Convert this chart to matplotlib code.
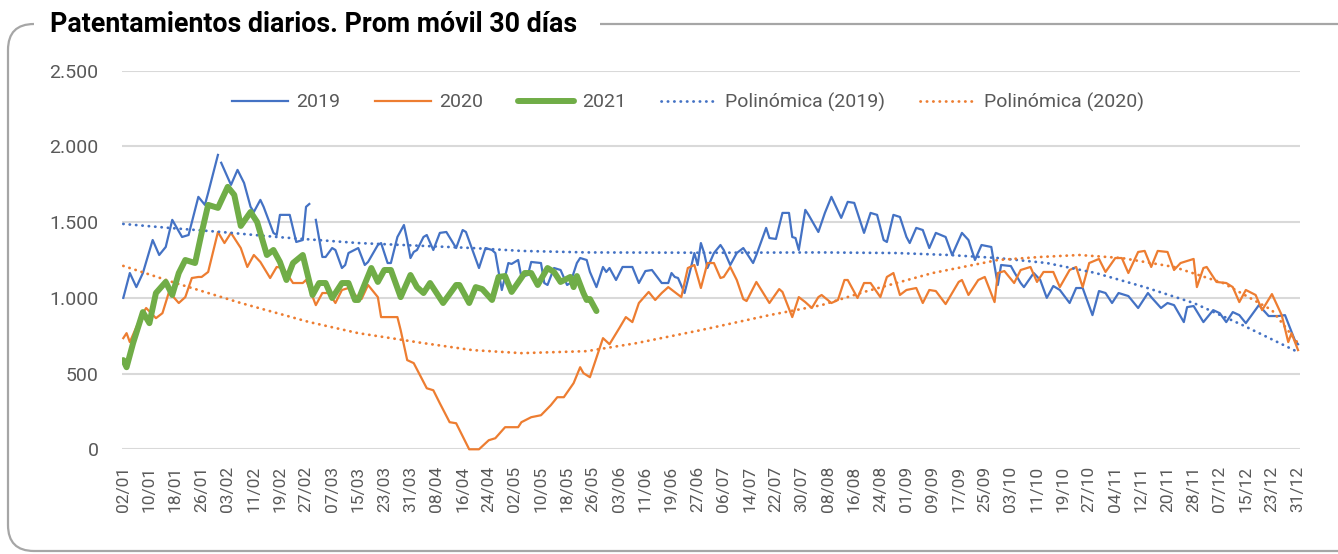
import numpy as np
import matplotlib
matplotlib.use("Agg")
import matplotlib.pyplot as plt
from matplotlib.patches import FancyBboxPatch, Rectangle
from matplotlib.ticker import FuncFormatter

plt.rcParams['font.family'] = ['Roboto', 'DejaVu Sans']

# ---------------- data ----------------
tick_labels = ["02/01", "10/01", "18/01", "26/01", "03/02", "11/02", "19/02", "27/02",
               "07/03", "15/03", "23/03", "31/03", "08/04", "16/04", "24/04", "02/05",
               "10/05", "18/05", "26/05", "03/06", "11/06", "19/06", "27/06", "06/07",
               "14/07", "22/07", "30/07", "08/08", "16/08", "24/08", "01/09", "09/09",
               "17/09", "25/09", "03/10", "11/10", "19/10", "27/10", "04/11", "12/11",
               "20/11", "28/11", "07/12", "15/12", "23/12", "31/12"]
tick_pos = list(range(0, 361, 8))

days_2019 = [0, 2, 4, 6, 9, 11, 13, 15, 18, 20, 23, 25, 26, 29, 29.5, 30, 33, 35, 37, 39, 40, 42, 43,
             46, 47, 48, 51, 53, 55, 56, 57, 58, 59, 61, 62, 64, 65, 67, 68, 69, 72, 74, 75,
             78, 79, 81, 82, 84, 86, 87, 88, 89, 90, 92, 93, 95, 97, 99, 102, 104, 105,
             107, 109, 111, 113, 114, 116, 118, 119, 121, 122, 124, 125, 128, 129, 130,
             132, 134, 136, 137, 139, 140, 142, 143, 145, 147, 148, 149, 151, 153, 156,
             158, 160, 162, 165, 167, 168, 169, 170, 172, 174, 175, 176, 177, 178, 179,
             181, 183, 184, 186, 188, 190, 193, 194, 197, 198, 200, 202, 204, 205, 206,
             207, 209, 210, 213, 215, 217, 220, 222, 224, 227, 229, 231, 233, 234, 236,
             238, 240, 241, 243, 245, 247, 249, 252, 254, 257, 259, 261, 263, 266, 268,
             269, 272, 273, 275, 276, 279, 281, 283, 285, 287, 290, 292, 294, 297, 299,
             301, 303, 305, 308, 311, 314, 315, 318, 320, 322, 325, 326, 328, 331, 334,
             336, 338, 340, 342, 344, 348, 351, 354, 356, 359, 360]
vals_2019 = [1000, 1164, 1071, 1164, 1382, 1283, 1336, 1515, 1402, 1415, 1667, 1614, 1693, 1944, None, 1892,
             1746, 1845, 1759, 1601, 1567, 1647, 1601, 1429, 1415, 1548, 1548, 1369, 1382,
             1601, 1620, None, 1515, 1270, 1270, 1329, 1316, 1197, 1217, 1296, 1329, 1217, 1237,
             1349, 1362, 1230, 1230, 1402, 1481, 1382, 1263, 1303, 1316, 1402, 1415, 1316,
             1429, 1435, 1329, 1448, 1435, 1316, 1197, 1329, 1316, 1296, 1052, 1230, 1224,
             1250, 1138, 1151, 1237, 1230, 1098, 1085, 1197, 1184, 1085, 1098, 1230, 1263,
             1250, 1171, 1071, 1204, 1171, 1197, 1118, 1204, 1204, 1098, 1177, 1184, 1098,
             1098, 1164, 1138, 1131, 1032, 1204, 1296, 1217, 1362, 1296, 1197, 1296, 1349,
             1316, 1217, 1296, 1329, 1230, 1283, 1462, 1395, 1389, 1561, 1561, 1402, 1395,
             1316, 1581, 1548, 1435, 1561, 1667, 1528, 1634, 1627, 1429, 1561, 1548, 1382,
             1369, 1548, 1534, 1402, 1362, 1462, 1448, 1329, 1429, 1402, 1283, 1429, 1382,
             1250, 1349, 1336, 1085, 1217, 1210, 1171, 1098, 1071, 1164, 1118, 1000, 1078,
             1052, 966, 1065, 1065, 886, 1045, 1032, 966, 1032, 1012, 933, 1032, 1005, 933,
             966, 952, 840, 939, 946, 840, 919, 899, 840, 906, 886, 833, 952, 880, 880, 886,
             721, 694]

days_2020 = [0, 1, 2, 4, 6, 7, 10, 12, 14, 17, 19, 21, 23, 24, 26, 29, 31, 33, 36, 38, 40,
             42, 45, 47, 49, 52, 55, 56, 59, 61, 63, 65, 67, 69, 72, 73, 75, 78, 79, 84, 85,
             87, 89, 93, 95, 97, 100, 102, 106, 109, 112, 114, 117, 121, 122, 125, 128, 131,
             133, 135, 138, 140, 141, 143, 147, 149, 152, 154, 156, 158, 161, 163, 165, 167,
             171, 173, 175, 177, 179, 181, 183, 184, 186, 188, 190, 191, 194, 198, 201, 202,
             205, 207, 209, 211, 213, 214, 217, 219, 221, 222, 225, 227, 229, 232, 234, 236,
             238, 240, 243, 245, 247, 249, 252, 256, 257, 259, 262, 264, 267, 268, 270, 273,
             275, 278, 280, 282, 285, 287, 290, 292, 294, 296, 299, 301, 304, 306, 308, 311,
             313, 315, 317, 320, 322, 324, 328, 329, 331, 332, 335, 338, 340, 342, 344, 347,
             349, 352, 355, 357, 358, 360]
vals_2020 = [734, 767, 708, 807, 899, 933, 866, 899, 1039, 966, 1005, 1131, 1138, 1138, 1171,
             1435, 1362, 1429, 1329, 1204, 1283, 1237, 1131, 1204, 1197, 1098, 1098, 1118,
             952, 1032, 1032, 966, 1052, 1065, 999, 992, 1085, 1005, 873, 873, 787, 589, 569,
             403, 390, 304, 179, 172, 0, 0, 60, 73, 146, 146, 179, 212, 225, 291, 344, 344,
             437, 542, 503, 476, 734, 694, 800, 873, 840, 966, 1039, 986, 1032, 1071, 1005,
             1197, 1217, 1065, 1230, 1230, 1131, 1138, 1204, 1118, 992, 979, 1105, 966, 1058,
             1039, 873, 1005, 972, 933, 1005, 1019, 966, 986, 1118, 1118, 999, 1098, 1098,
             1005, 1138, 1164, 1019, 1052, 1065, 966, 1052, 1045, 959, 1105, 1118, 1019, 1118,
             1138, 972, 1164, 1177, 1098, 1184, 1204, 1105, 1171, 1171, 1071, 1184, 1204, 1071,
             1230, 1257, 1171, 1263, 1263, 1164, 1303, 1310, 1204, 1310, 1303, 1184, 1230,
             1257, 1071, 1197, 1204, 1105, 1098, 1071, 972, 1052, 1019, 919, 1025, 886, 708,
             767, 655]

days_2021 = [0, 1, 3, 6, 8, 10, 13, 15, 17, 19, 22, 24, 26, 29, 32, 34, 36, 39, 41, 44, 46,
             48, 50, 52, 55, 58, 60, 62, 64, 67, 69, 71, 72, 76, 78, 80, 82, 85, 88, 90, 92,
             94, 98, 102, 103, 106, 108, 110, 113, 115, 117, 119, 123, 125, 127, 130, 132,
             134, 137, 138, 139, 141, 142, 143, 145]
vals_2021 = [589, 542, 701, 906, 833, 1032, 1105, 1019, 1164, 1250, 1230, 1429, 1614, 1594,
             1733, 1680, 1475, 1567, 1501, 1283, 1316, 1237, 1118, 1230, 1283, 1019, 1098,
             1098, 999, 1098, 1098, 986, 986, 1197, 1105, 1184, 1184, 1005, 1151, 1071, 1032,
             1098, 966, 1085, 1085, 966, 1071, 1058, 986, 1138, 1144, 1039, 1164, 1164, 1085,
             1197, 1171, 1105, 1138, 1071, 1144, 1032, 986, 992, 913]

trend_days_2019 = [0, 14, 30, 47, 72, 92, 107, 122, 142, 180, 214, 237, 253, 268, 283, 298,
                   313, 328, 343, 360]
trend_vals_2019 = [1488, 1462, 1435, 1402, 1362, 1343, 1329, 1310, 1300, 1298, 1300, 1296,
                   1283, 1263, 1230, 1164, 1071, 966, 820, 642]

trend_days_2020 = [0, 16, 36, 57, 72, 92, 107, 122, 142, 157, 177, 198, 214, 227, 248, 268,
                   281, 293, 306, 322, 337, 352, 360]
trend_vals_2020 = [1211, 1098, 966, 840, 767, 701, 655, 635, 648, 700, 787, 886, 952, 1039,
                   1164, 1250, 1270, 1283, 1263, 1204, 1098, 919, 700]

y_ticks = [0, 500, 1000, 1500, 2000, 2500]

# ---------------- styling ----------------
BLUE = "#4472C4"
ORANGE = "#ED7D31"
GREEN = "#70AD47"
GRID = "#D9D9D9"
TXT = "#595959"

W, H = 1338, 554
fig = plt.figure(figsize=(W / 100, H / 100), dpi=100)

# background / frame layer in pixel coordinates
bg = fig.add_axes([0, 0, 1, 1], zorder=0)
bg.set_xlim(0, W)
bg.set_ylim(H, 0)
bg.axis("off")
frame = FancyBboxPatch((8, 24), 1380 - 8, 551 - 24,
                       boxstyle="round,pad=0,rounding_size=26",
                       edgecolor="#A6A6A6", facecolor="none", linewidth=1.6)
bg.add_patch(frame)
bg.add_patch(Rectangle((34, 8), 600 - 34, 34, facecolor="white", edgecolor="none", zorder=3))
bg.text(50, 25, "Patentamientos diarios. Prom móvil 30 días", fontsize=19.3,
        fontweight="bold", color="black", va="center", ha="left", zorder=4)

# main axes
left, right, top, bottom = 122, 1300, 70.7, 449.3
ax = fig.add_axes([left / W, 1 - bottom / H, (right - left) / W, (bottom - top) / H], zorder=1)
ax.patch.set_alpha(0)

def arr(v):
    return np.array([np.nan if x is None else x for x in v], dtype=float)

ax.plot(days_2019, arr(vals_2019), color=BLUE, lw=1.6, label="2019", zorder=3, clip_on=False)
ax.plot(days_2020, arr(vals_2020), color=ORANGE, lw=1.6, label="2020", zorder=3, clip_on=False)
ax.plot(trend_days_2019, trend_vals_2019, color=BLUE, lw=2.0, linestyle=(0, (0.1, 2.2)),
        dash_capstyle="round", label="Polinómica (2019)", zorder=4)
ax.plot(trend_days_2020, trend_vals_2020, color=ORANGE, lw=2.0, linestyle=(0, (0.1, 2.2)),
        dash_capstyle="round", label="Polinómica (2020)", zorder=4)
ax.plot(days_2021, vals_2021, color=GREEN, lw=4.3, label="2021", zorder=5,
        solid_capstyle="round", solid_joinstyle="round")

ax.set_xlim(-0.4, 360.6)
ax.set_ylim(0, 2500)
ax.set_yticks(y_ticks)
ax.yaxis.set_major_formatter(FuncFormatter(lambda v, p: f"{int(v):,}".replace(",", ".")))
ax.set_xticks(tick_pos)
ax.set_xticklabels(tick_labels, rotation=90)
ax.tick_params(axis="both", length=0, colors=TXT)
ax.tick_params(axis="y", labelsize=14, pad=17)
ax.tick_params(axis="x", labelsize=12.5, pad=12)
ax.grid(axis="y", color=GRID, lw=1.5)
ax.set_axisbelow(True)
for s in ax.spines.values():
    s.set_visible(False)

h, l = ax.get_legend_handles_labels()
order = ["2019", "2020", "2021", "Polinómica (2019)", "Polinómica (2020)"]
hs = [h[l.index(o)] for o in order]
fig.legend(hs, order, loc="center", bbox_to_anchor=(688 / W, 1 - 102 / H), ncol=5,
           frameon=False, fontsize=14, labelcolor=TXT, handlelength=2.9,
           handletextpad=0.4, columnspacing=1.8)

fig.savefig("out.png", dpi=100)
